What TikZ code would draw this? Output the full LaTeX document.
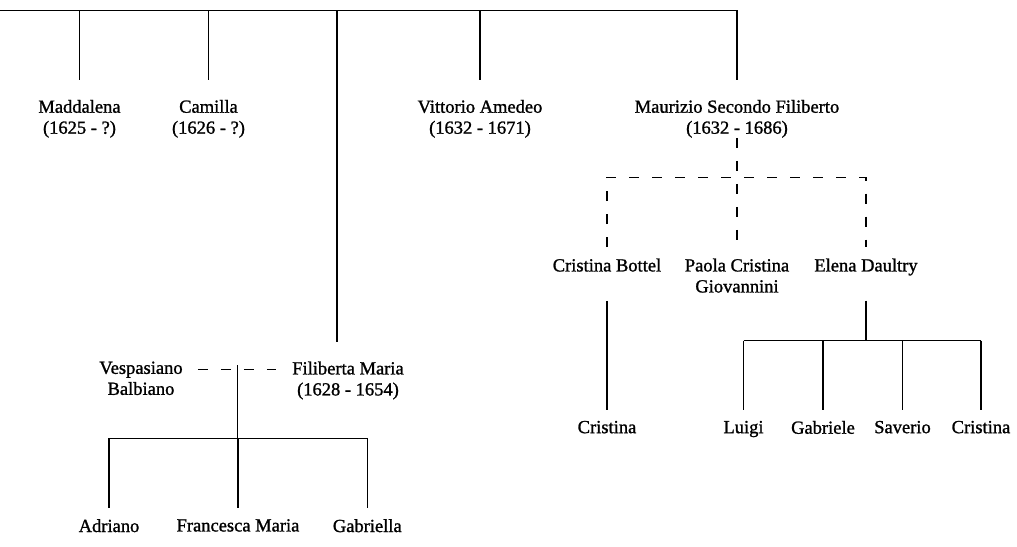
\documentclass[tikz,border=0pt]{standalone}
\usepackage{fontspec}
\setmainfont{Liberation Serif}[FakeBold=1.2]

\tikzset{
    person/.style={anchor=north, align=center, inner sep=0pt, font=\fontsize{18.5}{21}\selectfont},
    kin/.style={line width=1.3pt},
    wed/.style={line width=1.3pt, dash pattern=on 10pt off 13pt}
}

\begin{document}
\begin{tikzpicture}[x=1pt, y=-1pt]
        \useasboundingbox (0,0) rectangle (1017,546);

        \coordinate (bar) at (0,10.5);
        \coordinate (fil-top) at (337,342.3);
        \coordinate (mau-bar) at (737,177.3);
        \coordinate (dau-bar) at (866,340.7);
        \coordinate (union) at (237.7,369.3);
        \coordinate (sib-bar) at (237.7,438.3);

        \node[person] (maddalena) at (79.5,99.7) {Maddalena\\(1625 - ?)};
        \node[person] (camilla) at (208.5,99.7) {Camilla\\(1626 - ?)};
        \node[person] (vittorio) at (480,99.7) {Vittorio Amedeo\\(1632 - 1671)};
        \node[person] (maurizio) at (737,99.7) {Maurizio Secondo Filiberto\\(1632 - 1686)};

        \node[person] (bottel) at (607,258.4) {Cristina Bottel};
        \node[person] (paola) at (737,258.4) {Paola Cristina\\Giovannini};
        \node[person] (daultry) at (866,258.4) {Elena Daultry};

        \node[person] (vespasiano) at (141,361.4) {Vespasiano\\Balbiano};
        \node[person] (filiberta) at (348,361.4) {Filiberta Maria\\(1628 - 1654)};

        \node[person] (cristinaB) at (607,420.7) {Cristina};
        \node[person] (luigi) at (743.5,420.7) {Luigi};
        \node[person] (gabriele) at (823,420.7) {Gabriele};
        \node[person] (saverio) at (902.5,420.7) {Saverio};
        \node[person] (cristinaD) at (981,420.7) {Cristina};

        \node[person] (adriano) at (109,519) {Adriano};
        \node[person] (francesca) at (238,519) {Francesca Maria};
        \node[person] (gabriella) at (367.3,519) {Gabriella};

        \draw[kin, shorten >=19.7pt] (bar) -| (maurizio.north);
        \foreach \c in {maddalena, camilla, vittorio}
            \draw[kin, shorten >=19.7pt] (bar -| \c.north) -- (\c.north);
        \draw[kin] (bar -| fil-top) -- (fil-top);

        \draw[wed, shorten >=11.4pt] (maurizio.south) -- (paola.north);
        \draw[wed, shorten <=11.4pt, shorten >=11.4pt] (bottel.north) |- (mau-bar) -| (daultry.north);

        \draw[kin, shorten <=29pt, shorten >=10.7pt] (bottel.south) -- (cristinaB.north);
        \draw[kin, shorten <=25pt] (daultry.south) -- (dau-bar);
        \draw[kin] (dau-bar -| luigi.north) -- (dau-bar -| cristinaD.north);
        \foreach \c in {luigi, gabriele, saverio, cristinaD}
            \draw[kin, shorten >=10.7pt] (dau-bar -| \c.north) -- (\c.north);

        \draw[wed, shorten <=15pt, shorten >=15.7pt] (vespasiano.east |- union) -- (filiberta.west |- union);
        \draw[kin, shorten <=-4pt] (union) -- (sib-bar);
        \draw[kin] (sib-bar -| adriano.north) -- (sib-bar -| gabriella.north);
        \foreach \c in {adriano, francesca, gabriella}
            \draw[kin, shorten >=11pt] (sib-bar -| \c.north) -- (\c.north);
\end{tikzpicture}
\end{document}
